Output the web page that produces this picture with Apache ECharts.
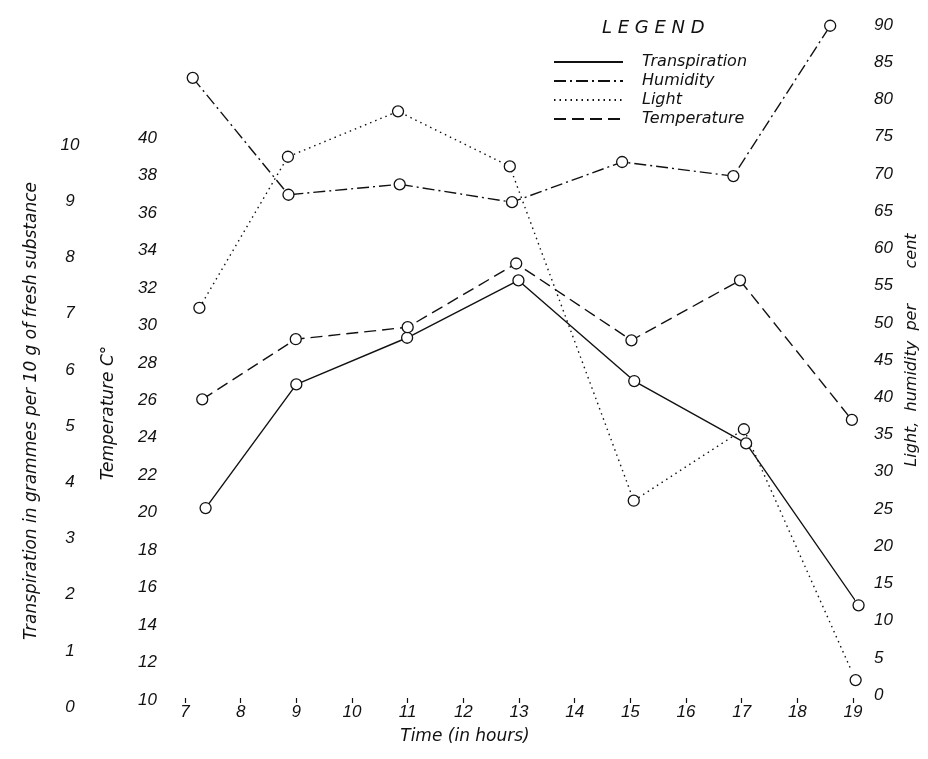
<!DOCTYPE html>
<html>
<head>
<meta charset="utf-8">
<script src="https://cdn.jsdelivr.net/npm/echarts@6/dist/echarts.min.js"></script>
<style>
html,body{margin:0;padding:0;background:#fff;}
#chart{width:928px;height:759px;}
</style>
</head>
<body>
<div id="chart"></div>
<script>
// ---- data ----
const hourTicks = [7, 8, 9, 10, 11, 12, 13, 14, 15, 16, 17, 18, 19];
const transpTicks = [0, 1, 2, 3, 4, 5, 6, 7, 8, 9, 10];
const tempTicks = [10, 12, 14, 16, 18, 20, 22, 24, 26, 28, 30, 32, 34, 36, 38, 40];
const percentTicks = [0, 5, 10, 15, 20, 25, 30, 35, 40, 45, 50, 55, 60, 65, 70, 75, 80, 85, 90];

const transpTime = [7.37, 9.0, 10.99, 12.99, 15.07, 17.08, 19.1];
const transpValue = [3.54, 5.74, 6.57, 7.59, 5.80, 4.69, 1.81];
const humidityTime = [7.14, 8.87, 10.88, 12.91, 14.9, 16.91, 18.66];
const humidityValue = [82.9, 67.2, 68.6, 66.2, 71.6, 69.7, 89.9];
const lightTime = [7.26, 8.86, 10.85, 12.87, 15.11, 17.1, 19.12];
const lightValue = [52.0, 72.3, 78.4, 71.0, 26.1, 35.7, 2.0];
const tempTime = [7.31, 8.99, 11.0, 12.95, 15.02, 16.97, 18.98];
const tempValue = [26.05, 29.26, 29.9, 33.3, 29.2, 32.4, 24.95];

const seriesNames = ['Transpiration', 'Humidity', 'Light', 'Temperature'];

// ---- helpers ----
const pairs = (xs, ys) => xs.map((x, i) => [x, ys[i]]);
const INK = '#111';
const numFont = { fontFamily: "'Liberation Sans', sans-serif", fontStyle: 'italic', fontSize: 17, color: INK };
const txtFont = { fontFamily: "'DejaVu Sans', sans-serif", fontStyle: 'italic', fontSize: 16, color: INK };

function yAxisBase(gridIndex, ticks, extra) {
  return Object.assign({
    type: 'value', gridIndex: gridIndex,
    min: ticks[0], max: ticks[ticks.length - 1], interval: ticks[1] - ticks[0],
    axisLine: { show: false }, axisTick: { show: false }, splitLine: { show: false },
    nameLocation: 'middle', nameRotate: 90
  }, extra);
}
function hiddenX(gridIndex) {
  return { type: 'value', gridIndex: gridIndex, min: hourTicks[0], max: hourTicks[hourTicks.length - 1], show: false };
}
function lineSeries(name, xi, yi, xs, ys, dash) {
  return {
    name: name, type: 'line', xAxisIndex: xi, yAxisIndex: yi,
    data: pairs(xs, ys),
    clip: false,
    symbol: 'circle', symbolSize: 11,
    itemStyle: { color: '#fff', borderColor: INK, borderWidth: 1.3 },
    lineStyle: { color: INK, width: 1.4, type: dash },
    emphasis: { disabled: true },
    animation: false
  };
}

const chart = echarts.init(document.getElementById('chart'), null, { renderer: 'canvas' });
chart.setOption({
  backgroundColor: '#fff',
  animation: false,
  title: {
    text: 'L E G E N D', left: 597, top: 14,
    textStyle: Object.assign({}, txtFont, { fontSize: 18, fontWeight: 'normal' })
  },
  legend: {
    orient: 'vertical', left: 553, top: 54, padding: 0,
    itemWidth: 69, itemHeight: 14, itemGap: 3,
    itemStyle: { opacity: 0 },
    textStyle: Object.assign({}, txtFont, { padding: [0, 0, 0, 14] }),
    data: seriesNames,
    selectedMode: false
  },
  grid: [
    { left: 185, right: 75, top: 25, bottom: 64 },   // light / humidity
    { left: 185, right: 75, top: 138, bottom: 59 },  // temperature
    { left: 185, right: 75, top: 145, bottom: 52 }   // transpiration
  ],
  xAxis: [
    hiddenX(0),
    {
      type: 'value', gridIndex: 1,
      min: hourTicks[0], max: hourTicks[hourTicks.length - 1], interval: hourTicks[1] - hourTicks[0],
      offset: -2,
      axisLine: { show: false },
      axisTick: { show: true, length: 5, lineStyle: { color: INK, width: 1.2 } },
      splitLine: { show: false },
      axisLabel: Object.assign({}, numFont, { margin: 6 }),
      name: 'Time (in hours)', nameLocation: 'middle', nameGap: 30,
      nameTextStyle: Object.assign({}, txtFont, { fontSize: 17, padding: [0, 108, 0, 0] })
    },
    hiddenX(2)
  ],
  yAxis: [
    yAxisBase(0, percentTicks, {
      position: 'right',
      axisLabel: Object.assign({}, numFont, { margin: 25, align: 'left' }),
      name: 'Light,  humidity  per       cent', nameGap: 55,
      nameTextStyle: Object.assign({}, txtFont, { fontSize: 16, padding: [0, 0, 0, 20] })
    }),
    yAxisBase(1, tempTicks, {
      position: 'left',
      axisLabel: Object.assign({}, numFont, { margin: 28, align: 'right' }),
      name: 'Temperature C°', nameGap: 68,
      nameTextStyle: Object.assign({}, txtFont, { fontSize: 17, padding: [0, 0, 0, 12] })
    }),
    yAxisBase(2, transpTicks, {
      position: 'left',
      axisLabel: Object.assign({}, numFont, { margin: 115, align: 'center' }),
      name: 'Transpiration in grammes per 10 g of fresh substance', nameGap: 145,
      nameTextStyle: Object.assign({}, txtFont, { fontSize: 17, padding: [0, 0, 0, 30] })
    })
  ],
  series: [
    lineSeries(seriesNames[0], 2, 2, transpTime, transpValue, 'solid'),
    lineSeries(seriesNames[1], 0, 0, humidityTime, humidityValue, [12, 4, 2, 4]),
    lineSeries(seriesNames[2], 0, 0, lightTime, lightValue, [1.5, 4]),
    lineSeries(seriesNames[3], 1, 1, tempTime, tempValue, [12, 6])
  ]
});
</script>
</body>
</html>
